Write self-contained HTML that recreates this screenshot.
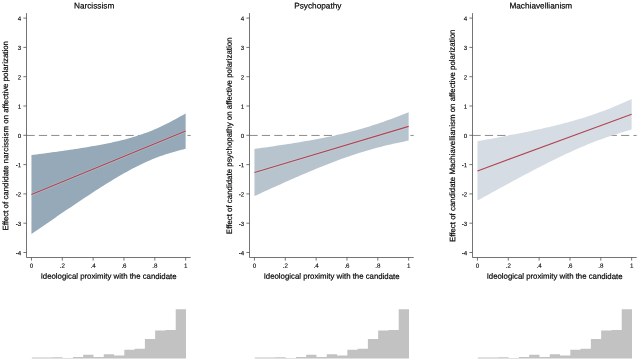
<!DOCTYPE html>
<html><head><meta charset="utf-8"><title>Marginal effects</title>
<style>html,body{margin:0;padding:0;background:#fff;}body{width:640px;height:361px;overflow:hidden;font-family:"Liberation Sans",sans-serif;}</style>
</head><body>
<svg width="640" height="361" viewBox="0 0 640 361" style="display:block;will-change:transform">
<rect width="640" height="361" fill="#fff"/>
<g transform="translate(0.00,0)" font-family="Liberation Sans, sans-serif">
<line x1="26.5" y1="135.45" x2="190.7" y2="135.45" stroke="#444" stroke-width="0.62" stroke-dasharray="8.2 4.18"/>
<polygon fill="#96a9b8" points="31.45,155.08 34.02,154.75 36.59,154.42 39.16,154.08 41.73,153.75 44.30,153.41 46.87,153.06 49.44,152.72 52.01,152.37 54.58,152.02 57.15,151.66 59.72,151.30 62.29,150.94 64.86,150.57 67.43,150.19 70.00,149.82 72.57,149.43 75.14,149.04 77.71,148.65 80.28,148.25 82.85,147.84 85.42,147.42 87.99,147.00 90.56,146.57 93.13,146.12 95.70,145.67 98.27,145.20 100.84,144.73 103.41,144.24 105.98,143.73 108.55,143.21 111.12,142.67 113.69,142.12 116.26,141.54 118.83,140.94 121.40,140.32 123.97,139.68 126.54,139.00 129.11,138.30 131.68,137.57 134.25,136.80 136.82,136.00 139.39,135.16 141.96,134.29 144.53,133.37 147.10,132.42 149.67,131.42 152.24,130.38 154.81,129.30 157.38,128.18 159.95,127.01 162.52,125.80 165.09,124.56 167.66,123.28 170.23,121.96 172.80,120.60 175.37,119.21 177.94,117.80 180.51,116.35 183.08,114.88 185.65,113.38 185.65,148.82 183.08,149.44 180.51,150.08 177.94,150.75 175.37,151.45 172.80,152.18 170.23,152.94 167.66,153.74 165.09,154.57 162.52,155.45 159.95,156.36 157.38,157.31 154.81,158.30 152.24,159.33 149.67,160.41 147.10,161.53 144.53,162.69 141.96,163.89 139.39,165.14 136.82,166.42 134.25,167.73 131.68,169.08 129.11,170.47 126.54,171.88 123.97,173.32 121.40,174.80 118.83,176.29 116.26,177.81 113.69,179.35 111.12,180.91 108.55,182.49 105.98,184.09 103.41,185.70 100.84,187.32 98.27,188.96 95.70,190.62 93.13,192.28 90.56,193.95 87.99,195.63 85.42,197.33 82.85,199.03 80.28,200.73 77.71,202.45 75.14,204.17 72.57,205.90 70.00,207.63 67.43,209.37 64.86,211.12 62.29,212.86 59.72,214.62 57.15,216.37 54.58,218.13 52.01,219.90 49.44,221.67 46.87,223.44 44.30,225.21 41.73,226.99 39.16,228.77 36.59,230.55 34.02,232.33 31.45,234.12"/>
<line x1="31.45" y1="194.6" x2="185.64999999999998" y2="131.1" stroke="#c8eef2" stroke-opacity="0.3" stroke-width="2.6"/>
<line x1="31.45" y1="194.6" x2="185.64999999999998" y2="131.1" stroke="#b8404f" stroke-width="1.1"/>
<line x1="26.5" y1="13.1" x2="26.5" y2="257.5" stroke="#505050" stroke-width="0.8"/>
<line x1="26.5" y1="257.5" x2="190.7" y2="257.5" stroke="#505050" stroke-width="0.8"/>
<line x1="23.4" y1="252.50" x2="26.5" y2="252.50" stroke="#505050" stroke-width="0.8"/>
<text transform="translate(21.30,255.20) rotate(0.1)" text-anchor="end" font-size="6.2" stroke="#000" stroke-width="0.1" fill="#000">-4</text>
<line x1="23.4" y1="223.20" x2="26.5" y2="223.20" stroke="#505050" stroke-width="0.8"/>
<text transform="translate(21.30,225.90) rotate(0.1)" text-anchor="end" font-size="6.2" stroke="#000" stroke-width="0.1" fill="#000">-3</text>
<line x1="23.4" y1="193.90" x2="26.5" y2="193.90" stroke="#505050" stroke-width="0.8"/>
<text transform="translate(21.30,196.60) rotate(0.1)" text-anchor="end" font-size="6.2" stroke="#000" stroke-width="0.1" fill="#000">-2</text>
<line x1="23.4" y1="164.60" x2="26.5" y2="164.60" stroke="#505050" stroke-width="0.8"/>
<text transform="translate(21.30,167.30) rotate(0.1)" text-anchor="end" font-size="6.2" stroke="#000" stroke-width="0.1" fill="#000">-1</text>
<line x1="23.4" y1="135.30" x2="26.5" y2="135.30" stroke="#505050" stroke-width="0.8"/>
<text transform="translate(21.30,138.00) rotate(0.1)" text-anchor="end" font-size="6.2" stroke="#000" stroke-width="0.1" fill="#000">0</text>
<line x1="23.4" y1="106.00" x2="26.5" y2="106.00" stroke="#505050" stroke-width="0.8"/>
<text transform="translate(21.30,108.70) rotate(0.1)" text-anchor="end" font-size="6.2" stroke="#000" stroke-width="0.1" fill="#000">1</text>
<line x1="23.4" y1="76.70" x2="26.5" y2="76.70" stroke="#505050" stroke-width="0.8"/>
<text transform="translate(21.30,79.40) rotate(0.1)" text-anchor="end" font-size="6.2" stroke="#000" stroke-width="0.1" fill="#000">2</text>
<line x1="23.4" y1="47.40" x2="26.5" y2="47.40" stroke="#505050" stroke-width="0.8"/>
<text transform="translate(21.30,50.10) rotate(0.1)" text-anchor="end" font-size="6.2" stroke="#000" stroke-width="0.1" fill="#000">3</text>
<line x1="23.4" y1="18.10" x2="26.5" y2="18.10" stroke="#505050" stroke-width="0.8"/>
<text transform="translate(21.30,20.80) rotate(0.1)" text-anchor="end" font-size="6.2" stroke="#000" stroke-width="0.1" fill="#000">4</text>
<line x1="31.45" y1="257.5" x2="31.45" y2="260.6" stroke="#505050" stroke-width="0.8"/>
<text transform="translate(31.45,267.70) rotate(0.1)" text-anchor="middle" font-size="6.2" stroke="#000" stroke-width="0.1" fill="#000">0</text>
<line x1="62.29" y1="257.5" x2="62.29" y2="260.6" stroke="#505050" stroke-width="0.8"/>
<text transform="translate(62.29,267.70) rotate(0.1)" text-anchor="middle" font-size="6.2" stroke="#000" stroke-width="0.1" fill="#000">.2</text>
<line x1="93.13" y1="257.5" x2="93.13" y2="260.6" stroke="#505050" stroke-width="0.8"/>
<text transform="translate(93.13,267.70) rotate(0.1)" text-anchor="middle" font-size="6.2" stroke="#000" stroke-width="0.1" fill="#000">.4</text>
<line x1="123.97" y1="257.5" x2="123.97" y2="260.6" stroke="#505050" stroke-width="0.8"/>
<text transform="translate(123.97,267.70) rotate(0.1)" text-anchor="middle" font-size="6.2" stroke="#000" stroke-width="0.1" fill="#000">.6</text>
<line x1="154.81" y1="257.5" x2="154.81" y2="260.6" stroke="#505050" stroke-width="0.8"/>
<text transform="translate(154.81,267.70) rotate(0.1)" text-anchor="middle" font-size="6.2" stroke="#000" stroke-width="0.1" fill="#000">.8</text>
<line x1="185.65" y1="257.5" x2="185.65" y2="260.6" stroke="#505050" stroke-width="0.8"/>
<text transform="translate(185.65,267.70) rotate(0.1)" text-anchor="middle" font-size="6.2" stroke="#000" stroke-width="0.1" fill="#000">1</text>
<text transform="translate(108.60,278.80) rotate(0.1)" text-anchor="middle" font-size="7.82" stroke="#000" stroke-width="0.18" fill="#000">Ideological proximity with the candidate</text>
<text transform="translate(8.20,135.80) rotate(-90.1)" text-anchor="middle" font-size="7.9" stroke="#000" stroke-width="0.18" fill="#000">Effect of candidate narcissism on affective polarization</text>
<text transform="translate(94.10,8.45) rotate(0.1)" text-anchor="middle" font-size="8.25" stroke="#000" stroke-width="0.18" fill="#000">Narcissism</text>
<path d="M31.80,358.5 L31.80,357.60 L42.08,357.60 L42.08,357.60 L52.36,357.60 L52.36,357.30 L62.64,357.30 L62.64,357.90 L72.92,357.90 L72.92,357.10 L83.20,357.10 L83.20,354.80 L93.48,354.80 L93.48,357.10 L103.76,357.10 L103.76,354.30 L114.04,354.30 L114.04,355.50 L124.32,355.50 L124.32,349.80 L134.60,349.80 L134.60,348.80 L144.88,348.80 L144.88,339.00 L155.16,339.00 L155.16,330.60 L165.44,330.60 L165.44,330.10 L175.72,330.10 L175.72,309.30 L186.00,309.30 L186.00,358.5 Z" fill="#c2c2c2"/>
</g>
<g transform="translate(223.00,0)" font-family="Liberation Sans, sans-serif">
<line x1="26.5" y1="135.45" x2="190.7" y2="135.45" stroke="#444" stroke-width="0.62" stroke-dasharray="8.2 4.18"/>
<polygon fill="#b7c4ce" points="31.45,148.94 34.02,148.58 36.59,148.22 39.16,147.86 41.73,147.50 44.30,147.13 46.87,146.76 49.44,146.38 52.01,146.00 54.58,145.62 57.15,145.24 59.72,144.85 62.29,144.45 64.86,144.05 67.43,143.65 70.00,143.24 72.57,142.83 75.14,142.41 77.71,141.98 80.28,141.55 82.85,141.11 85.42,140.66 87.99,140.20 90.56,139.74 93.13,139.26 95.70,138.78 98.27,138.29 100.84,137.78 103.41,137.27 105.98,136.74 108.55,136.20 111.12,135.65 113.69,135.08 116.26,134.50 118.83,133.90 121.40,133.29 123.97,132.66 126.54,132.01 129.11,131.35 131.68,130.67 134.25,129.97 136.82,129.25 139.39,128.51 141.96,127.75 144.53,126.97 147.10,126.18 149.67,125.36 152.24,124.53 154.81,123.68 157.38,122.80 159.95,121.92 162.52,121.01 165.09,120.09 167.66,119.15 170.23,118.20 172.80,117.23 175.37,116.24 177.94,115.25 180.51,114.24 183.08,113.22 185.65,112.19 185.65,140.61 183.08,141.12 180.51,141.63 177.94,142.16 175.37,142.70 172.80,143.26 170.23,143.82 167.66,144.41 165.09,145.01 162.52,145.62 159.95,146.25 157.38,146.90 154.81,147.56 152.24,148.25 149.67,148.95 147.10,149.67 144.53,150.41 141.96,151.17 139.39,151.95 136.82,152.75 134.25,153.57 131.68,154.40 129.11,155.26 126.54,156.13 123.97,157.02 121.40,157.93 118.83,158.85 116.26,159.79 113.69,160.74 111.12,161.71 108.55,162.70 105.98,163.69 103.41,164.70 100.84,165.73 98.27,166.76 95.70,167.80 93.13,168.86 90.56,169.92 87.99,170.99 85.42,172.07 82.85,173.16 80.28,174.26 77.71,175.36 75.14,176.47 72.57,177.59 70.00,178.71 67.43,179.84 64.86,180.97 62.29,182.11 59.72,183.25 57.15,184.40 54.58,185.55 52.01,186.70 49.44,187.86 46.87,189.02 44.30,190.19 41.73,191.36 39.16,192.53 36.59,193.70 34.02,194.88 31.45,196.06"/>
<line x1="31.45" y1="172.5" x2="185.64999999999998" y2="126.4" stroke="#c8eef2" stroke-opacity="0.3" stroke-width="2.6"/>
<line x1="31.45" y1="172.5" x2="185.64999999999998" y2="126.4" stroke="#b8404f" stroke-width="1.1"/>
<line x1="26.5" y1="13.1" x2="26.5" y2="257.5" stroke="#505050" stroke-width="0.8"/>
<line x1="26.5" y1="257.5" x2="190.7" y2="257.5" stroke="#505050" stroke-width="0.8"/>
<line x1="23.4" y1="252.50" x2="26.5" y2="252.50" stroke="#505050" stroke-width="0.8"/>
<text transform="translate(21.30,255.20) rotate(0.1)" text-anchor="end" font-size="6.2" stroke="#000" stroke-width="0.1" fill="#000">-4</text>
<line x1="23.4" y1="223.20" x2="26.5" y2="223.20" stroke="#505050" stroke-width="0.8"/>
<text transform="translate(21.30,225.90) rotate(0.1)" text-anchor="end" font-size="6.2" stroke="#000" stroke-width="0.1" fill="#000">-3</text>
<line x1="23.4" y1="193.90" x2="26.5" y2="193.90" stroke="#505050" stroke-width="0.8"/>
<text transform="translate(21.30,196.60) rotate(0.1)" text-anchor="end" font-size="6.2" stroke="#000" stroke-width="0.1" fill="#000">-2</text>
<line x1="23.4" y1="164.60" x2="26.5" y2="164.60" stroke="#505050" stroke-width="0.8"/>
<text transform="translate(21.30,167.30) rotate(0.1)" text-anchor="end" font-size="6.2" stroke="#000" stroke-width="0.1" fill="#000">-1</text>
<line x1="23.4" y1="135.30" x2="26.5" y2="135.30" stroke="#505050" stroke-width="0.8"/>
<text transform="translate(21.30,138.00) rotate(0.1)" text-anchor="end" font-size="6.2" stroke="#000" stroke-width="0.1" fill="#000">0</text>
<line x1="23.4" y1="106.00" x2="26.5" y2="106.00" stroke="#505050" stroke-width="0.8"/>
<text transform="translate(21.30,108.70) rotate(0.1)" text-anchor="end" font-size="6.2" stroke="#000" stroke-width="0.1" fill="#000">1</text>
<line x1="23.4" y1="76.70" x2="26.5" y2="76.70" stroke="#505050" stroke-width="0.8"/>
<text transform="translate(21.30,79.40) rotate(0.1)" text-anchor="end" font-size="6.2" stroke="#000" stroke-width="0.1" fill="#000">2</text>
<line x1="23.4" y1="47.40" x2="26.5" y2="47.40" stroke="#505050" stroke-width="0.8"/>
<text transform="translate(21.30,50.10) rotate(0.1)" text-anchor="end" font-size="6.2" stroke="#000" stroke-width="0.1" fill="#000">3</text>
<line x1="23.4" y1="18.10" x2="26.5" y2="18.10" stroke="#505050" stroke-width="0.8"/>
<text transform="translate(21.30,20.80) rotate(0.1)" text-anchor="end" font-size="6.2" stroke="#000" stroke-width="0.1" fill="#000">4</text>
<line x1="31.45" y1="257.5" x2="31.45" y2="260.6" stroke="#505050" stroke-width="0.8"/>
<text transform="translate(31.45,267.70) rotate(0.1)" text-anchor="middle" font-size="6.2" stroke="#000" stroke-width="0.1" fill="#000">0</text>
<line x1="62.29" y1="257.5" x2="62.29" y2="260.6" stroke="#505050" stroke-width="0.8"/>
<text transform="translate(62.29,267.70) rotate(0.1)" text-anchor="middle" font-size="6.2" stroke="#000" stroke-width="0.1" fill="#000">.2</text>
<line x1="93.13" y1="257.5" x2="93.13" y2="260.6" stroke="#505050" stroke-width="0.8"/>
<text transform="translate(93.13,267.70) rotate(0.1)" text-anchor="middle" font-size="6.2" stroke="#000" stroke-width="0.1" fill="#000">.4</text>
<line x1="123.97" y1="257.5" x2="123.97" y2="260.6" stroke="#505050" stroke-width="0.8"/>
<text transform="translate(123.97,267.70) rotate(0.1)" text-anchor="middle" font-size="6.2" stroke="#000" stroke-width="0.1" fill="#000">.6</text>
<line x1="154.81" y1="257.5" x2="154.81" y2="260.6" stroke="#505050" stroke-width="0.8"/>
<text transform="translate(154.81,267.70) rotate(0.1)" text-anchor="middle" font-size="6.2" stroke="#000" stroke-width="0.1" fill="#000">.8</text>
<line x1="185.65" y1="257.5" x2="185.65" y2="260.6" stroke="#505050" stroke-width="0.8"/>
<text transform="translate(185.65,267.70) rotate(0.1)" text-anchor="middle" font-size="6.2" stroke="#000" stroke-width="0.1" fill="#000">1</text>
<text transform="translate(108.60,278.80) rotate(0.1)" text-anchor="middle" font-size="7.82" stroke="#000" stroke-width="0.18" fill="#000">Ideological proximity with the candidate</text>
<text transform="translate(8.80,135.80) rotate(-90.1)" text-anchor="middle" font-size="7.9" stroke="#000" stroke-width="0.18" fill="#000">Effect of candidate psychopathy on affective polarization</text>
<text transform="translate(94.80,8.45) rotate(0.1)" text-anchor="middle" font-size="8.25" stroke="#000" stroke-width="0.18" fill="#000">Psychopathy</text>
<path d="M31.80,358.5 L31.80,357.60 L42.08,357.60 L42.08,357.60 L52.36,357.60 L52.36,357.30 L62.64,357.30 L62.64,357.90 L72.92,357.90 L72.92,357.10 L83.20,357.10 L83.20,354.80 L93.48,354.80 L93.48,357.10 L103.76,357.10 L103.76,354.30 L114.04,354.30 L114.04,355.50 L124.32,355.50 L124.32,349.80 L134.60,349.80 L134.60,348.80 L144.88,348.80 L144.88,339.00 L155.16,339.00 L155.16,330.60 L165.44,330.60 L165.44,330.10 L175.72,330.10 L175.72,309.30 L186.00,309.30 L186.00,358.5 Z" fill="#c2c2c2"/>
</g>
<g transform="translate(446.00,0)" font-family="Liberation Sans, sans-serif">
<line x1="26.5" y1="135.45" x2="190.7" y2="135.45" stroke="#444" stroke-width="0.62" stroke-dasharray="8.2 4.18"/>
<polygon fill="#d6dce3" points="31.45,141.20 34.02,140.74 36.59,140.28 39.16,139.82 41.73,139.36 44.30,138.89 46.87,138.42 49.44,137.95 52.01,137.47 54.58,136.99 57.15,136.51 59.72,136.02 62.29,135.53 64.86,135.04 67.43,134.54 70.00,134.03 72.57,133.53 75.14,133.01 77.71,132.49 80.28,131.97 82.85,131.44 85.42,130.90 87.99,130.35 90.56,129.80 93.13,129.24 95.70,128.67 98.27,128.10 100.84,127.51 103.41,126.91 105.98,126.31 108.55,125.69 111.12,125.06 113.69,124.42 116.26,123.76 118.83,123.09 121.40,122.41 123.97,121.71 126.54,120.99 129.11,120.26 131.68,119.51 134.25,118.74 136.82,117.95 139.39,117.14 141.96,116.31 144.53,115.46 147.10,114.59 149.67,113.70 152.24,112.79 154.81,111.85 157.38,110.90 159.95,109.92 162.52,108.91 165.09,107.89 167.66,106.85 170.23,105.78 172.80,104.70 175.37,103.60 177.94,102.47 180.51,101.33 183.08,100.17 185.65,99.00 185.65,129.60 183.08,130.31 180.51,131.04 177.94,131.79 175.37,132.55 172.80,133.33 170.23,134.14 167.66,134.96 165.09,135.80 162.52,136.67 159.95,137.55 157.38,138.46 154.81,139.39 152.24,140.34 149.67,141.31 147.10,142.31 144.53,143.32 141.96,144.36 139.39,145.42 136.82,146.50 134.25,147.60 131.68,148.71 129.11,149.85 126.54,151.00 123.97,152.17 121.40,153.36 118.83,154.56 116.26,155.78 113.69,157.01 111.12,158.25 108.55,159.51 105.98,160.78 103.41,162.06 100.84,163.35 98.27,164.65 95.70,165.96 93.13,167.28 90.56,168.60 87.99,169.94 85.42,171.28 82.85,172.63 80.28,173.99 77.71,175.35 75.14,176.71 72.57,178.09 70.00,179.47 67.43,180.85 64.86,182.24 62.29,183.63 59.72,185.02 57.15,186.43 54.58,187.83 52.01,189.24 49.44,190.65 46.87,192.06 44.30,193.48 41.73,194.90 39.16,196.32 36.59,197.74 34.02,199.17 31.45,200.60"/>
<line x1="31.45" y1="170.9" x2="185.64999999999998" y2="114.3" stroke="#c8eef2" stroke-opacity="0.3" stroke-width="2.6"/>
<line x1="31.45" y1="170.9" x2="185.64999999999998" y2="114.3" stroke="#b8404f" stroke-width="1.1"/>
<line x1="26.5" y1="13.1" x2="26.5" y2="257.5" stroke="#505050" stroke-width="0.8"/>
<line x1="26.5" y1="257.5" x2="190.7" y2="257.5" stroke="#505050" stroke-width="0.8"/>
<line x1="23.4" y1="252.50" x2="26.5" y2="252.50" stroke="#505050" stroke-width="0.8"/>
<text transform="translate(21.30,255.20) rotate(0.1)" text-anchor="end" font-size="6.2" stroke="#000" stroke-width="0.1" fill="#000">-4</text>
<line x1="23.4" y1="223.20" x2="26.5" y2="223.20" stroke="#505050" stroke-width="0.8"/>
<text transform="translate(21.30,225.90) rotate(0.1)" text-anchor="end" font-size="6.2" stroke="#000" stroke-width="0.1" fill="#000">-3</text>
<line x1="23.4" y1="193.90" x2="26.5" y2="193.90" stroke="#505050" stroke-width="0.8"/>
<text transform="translate(21.30,196.60) rotate(0.1)" text-anchor="end" font-size="6.2" stroke="#000" stroke-width="0.1" fill="#000">-2</text>
<line x1="23.4" y1="164.60" x2="26.5" y2="164.60" stroke="#505050" stroke-width="0.8"/>
<text transform="translate(21.30,167.30) rotate(0.1)" text-anchor="end" font-size="6.2" stroke="#000" stroke-width="0.1" fill="#000">-1</text>
<line x1="23.4" y1="135.30" x2="26.5" y2="135.30" stroke="#505050" stroke-width="0.8"/>
<text transform="translate(21.30,138.00) rotate(0.1)" text-anchor="end" font-size="6.2" stroke="#000" stroke-width="0.1" fill="#000">0</text>
<line x1="23.4" y1="106.00" x2="26.5" y2="106.00" stroke="#505050" stroke-width="0.8"/>
<text transform="translate(21.30,108.70) rotate(0.1)" text-anchor="end" font-size="6.2" stroke="#000" stroke-width="0.1" fill="#000">1</text>
<line x1="23.4" y1="76.70" x2="26.5" y2="76.70" stroke="#505050" stroke-width="0.8"/>
<text transform="translate(21.30,79.40) rotate(0.1)" text-anchor="end" font-size="6.2" stroke="#000" stroke-width="0.1" fill="#000">2</text>
<line x1="23.4" y1="47.40" x2="26.5" y2="47.40" stroke="#505050" stroke-width="0.8"/>
<text transform="translate(21.30,50.10) rotate(0.1)" text-anchor="end" font-size="6.2" stroke="#000" stroke-width="0.1" fill="#000">3</text>
<line x1="23.4" y1="18.10" x2="26.5" y2="18.10" stroke="#505050" stroke-width="0.8"/>
<text transform="translate(21.30,20.80) rotate(0.1)" text-anchor="end" font-size="6.2" stroke="#000" stroke-width="0.1" fill="#000">4</text>
<line x1="31.45" y1="257.5" x2="31.45" y2="260.6" stroke="#505050" stroke-width="0.8"/>
<text transform="translate(31.45,267.70) rotate(0.1)" text-anchor="middle" font-size="6.2" stroke="#000" stroke-width="0.1" fill="#000">0</text>
<line x1="62.29" y1="257.5" x2="62.29" y2="260.6" stroke="#505050" stroke-width="0.8"/>
<text transform="translate(62.29,267.70) rotate(0.1)" text-anchor="middle" font-size="6.2" stroke="#000" stroke-width="0.1" fill="#000">.2</text>
<line x1="93.13" y1="257.5" x2="93.13" y2="260.6" stroke="#505050" stroke-width="0.8"/>
<text transform="translate(93.13,267.70) rotate(0.1)" text-anchor="middle" font-size="6.2" stroke="#000" stroke-width="0.1" fill="#000">.4</text>
<line x1="123.97" y1="257.5" x2="123.97" y2="260.6" stroke="#505050" stroke-width="0.8"/>
<text transform="translate(123.97,267.70) rotate(0.1)" text-anchor="middle" font-size="6.2" stroke="#000" stroke-width="0.1" fill="#000">.6</text>
<line x1="154.81" y1="257.5" x2="154.81" y2="260.6" stroke="#505050" stroke-width="0.8"/>
<text transform="translate(154.81,267.70) rotate(0.1)" text-anchor="middle" font-size="6.2" stroke="#000" stroke-width="0.1" fill="#000">.8</text>
<line x1="185.65" y1="257.5" x2="185.65" y2="260.6" stroke="#505050" stroke-width="0.8"/>
<text transform="translate(185.65,267.70) rotate(0.1)" text-anchor="middle" font-size="6.2" stroke="#000" stroke-width="0.1" fill="#000">1</text>
<text transform="translate(108.60,278.80) rotate(0.1)" text-anchor="middle" font-size="7.82" stroke="#000" stroke-width="0.18" fill="#000">Ideological proximity with the candidate</text>
<text transform="translate(9.00,135.80) rotate(-90.1)" text-anchor="middle" font-size="7.9" stroke="#000" stroke-width="0.18" fill="#000">Effect of candidate Machiavellianism on affective polarization</text>
<text transform="translate(94.80,8.45) rotate(0.1)" text-anchor="middle" font-size="8.25" stroke="#000" stroke-width="0.18" fill="#000">Machiavellianism</text>
<path d="M31.80,358.5 L31.80,357.60 L42.08,357.60 L42.08,357.60 L52.36,357.60 L52.36,357.30 L62.64,357.30 L62.64,357.90 L72.92,357.90 L72.92,357.10 L83.20,357.10 L83.20,354.80 L93.48,354.80 L93.48,357.10 L103.76,357.10 L103.76,354.30 L114.04,354.30 L114.04,355.50 L124.32,355.50 L124.32,349.80 L134.60,349.80 L134.60,348.80 L144.88,348.80 L144.88,339.00 L155.16,339.00 L155.16,330.60 L165.44,330.60 L165.44,330.10 L175.72,330.10 L175.72,309.30 L186.00,309.30 L186.00,358.5 Z" fill="#c2c2c2"/>
</g>
</svg>
</body></html>
